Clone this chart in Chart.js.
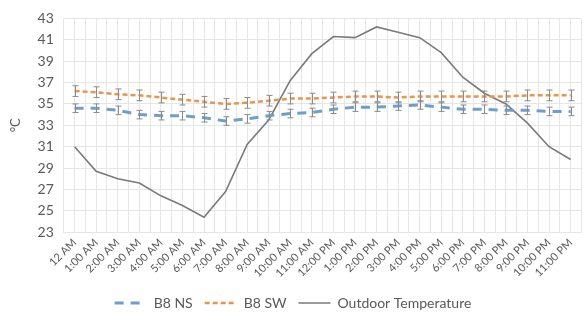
<!DOCTYPE html>
<html>
<head>
<meta charset="utf-8">
<script src="https://cdn.jsdelivr.net/npm/chart.js@4.4.1/dist/chart.umd.min.js"></script>
<style>
  html, body { margin: 0; padding: 0; background: #fff; }
  #wrap { width: 584px; height: 322px; position: relative; }
</style>
</head>
<body>
<div id="wrap"><canvas id="chart"></canvas></div>
<script>
const hours = ['12 AM', '1:00 AM', '2:00 AM', '3:00 AM', '4:00 AM', '5:00 AM', '6:00 AM', '7:00 AM',
    '8:00 AM', '9:00 AM', '10:00 AM', '11:00 AM', '12:00 PM', '1:00 PM', '2:00 PM', '3:00 PM',
    '4:00 PM', '5:00 PM', '6:00 PM', '7:00 PM', '8:00 PM', '9:00 PM', '10:00 PM', '11:00 PM'];

const b8NS = [34.6, 34.6, 34.4, 34.0, 33.9, 33.9, 33.7, 33.4, 33.6, 33.9, 34.1, 34.2,
    34.5, 34.7, 34.7, 34.8, 34.9, 34.7, 34.5, 34.5, 34.4, 34.4, 34.3, 34.3];
const b8NSErr = [0.4, 0.4, 0.4, 0.4, 0.4, 0.4, 0.4, 0.4, 0.4, 0.4, 0.4, 0.4,
    0.4, 0.4, 0.4, 0.4, 0.4, 0.4, 0.4, 0.4, 0.4, 0.4, 0.4, 0.4];

const b8SW = [36.2, 36.1, 35.9, 35.8, 35.6, 35.4, 35.2, 35.0, 35.1, 35.3, 35.5, 35.5,
    35.6, 35.7, 35.7, 35.6, 35.7, 35.7, 35.7, 35.7, 35.7, 35.8, 35.8, 35.8];
const b8SWErr = [0.5, 0.5, 0.5, 0.5, 0.5, 0.5, 0.5, 0.5, 0.5, 0.5, 0.5, 0.5,
    0.5, 0.5, 0.5, 0.5, 0.5, 0.5, 0.5, 0.5, 0.5, 0.5, 0.5, 0.5];

const outdoor = [31.0, 28.7, 28.0, 27.6, 26.4, 25.5, 24.4, 26.8, 31.2, 33.5, 37.2, 39.7,
    41.3, 41.2, 42.2, 41.7, 41.2, 39.8, 37.5, 36.0, 35.0, 33.2, 31.0, 29.8];

const textColor = '#595959';
const gridColor = '#e6e6e6';

// error bars drawn from the dataset values through the y scale
const errorBars = {
    id: 'errorBars',
    afterDatasetsDraw(chart) {
        const ctx = chart.ctx;
        const y = chart.scales.y;
        chart.data.datasets.forEach((ds, i) => {
            if (!ds.errors) return;
            const meta = chart.getDatasetMeta(i);
            ctx.save();
            ctx.strokeStyle = ds.errorColor;
            ctx.lineWidth = 1;
            meta.data.forEach((pt, j) => {
                const v = ds.data[j];
                const e = ds.errors[j];
                const top = y.getPixelForValue(v + e);
                const bot = y.getPixelForValue(v - e);
                const x = Math.round(pt.x) + 0.5;
                ctx.beginPath();
                ctx.moveTo(x, top);
                ctx.lineTo(x, bot);
                ctx.moveTo(x - 3, top);
                ctx.lineTo(x + 3, top);
                ctx.moveTo(x - 3, bot);
                ctx.lineTo(x + 3, bot);
                ctx.stroke();
            });
            ctx.restore();
        });
    }
};

new Chart(document.getElementById('chart'), {
    type: 'line',
    data: {
        labels: hours,
        datasets: [
            {
                label: 'B8 NS',
                data: b8NS,
                errors: b8NSErr,
                errorColor: '#8a8a8a',
                borderColor: '#6d9fcb',
                borderWidth: 3,
                borderDash: [9, 7],
                pointRadius: 0,
                tension: 0
            },
            {
                label: 'B8 SW',
                data: b8SW,
                errors: b8SWErr,
                errorColor: '#8a8a8a',
                borderColor: '#e8954f',
                borderWidth: 2.5,
                borderDash: [5, 3],
                pointRadius: 0,
                tension: 0
            },
            {
                label: 'Outdoor Temperature',
                data: outdoor,
                borderColor: '#7a7a7a',
                borderWidth: 1.6,
                pointRadius: 0,
                tension: 0
            }
        ]
    },
    options: {
        responsive: true,
        maintainAspectRatio: false,
        animation: false,
        layout: { padding: { left: 4, right: 2, top: -4, bottom: 2 } },
        plugins: {
            tooltip: { enabled: false },
            legend: {
                position: 'bottom',
                labels: {
                    color: textColor,
                    font: { family: 'Lato', size: 14 },
                    usePointStyle: true,
                    pointStyle: 'line',
                    pointStyleWidth: 32,
                    boxHeight: 3,
                    padding: 12,
                    generateLabels(chart) {
                        return chart.data.datasets.map((ds, i) => ({
                            text: ds.label,
                            strokeStyle: ds.borderColor,
                            fillStyle: ds.borderColor,
                            lineWidth: ds.borderWidth,
                            lineDash: ds.borderDash || [],
                            pointStyle: 'line',
                            hidden: false,
                            datasetIndex: i,
                            fontColor: textColor
                        }));
                    }
                }
            }
        },
        scales: {
            x: {
                offset: true,
                grid: { color: gridColor, offset: true, drawTicks: false },
                border: { color: gridColor },
                ticks: {
                    color: textColor,
                    font: { family: 'Lato', size: 11 },
                    maxRotation: 45,
                    minRotation: 45,
                    autoSkip: false,
                    padding: 4
                }
            },
            x2: {
                type: 'category',
                labels: hours,
                offset: true,
                position: 'bottom',
                grid: { color: gridColor, offset: false, drawTicks: false },
                border: { display: false },
                ticks: { display: false }
            },
            y: {
                min: 23,
                max: 43,
                grid: { color: gridColor, drawTicks: false },
                border: { display: false },
                ticks: {
                    stepSize: 2,
                    autoSkip: false,
                    color: textColor,
                    font: { family: 'Lato', size: 14 },
                    padding: 10
                },
                title: {
                    display: true,
                    text: '°C',
                    color: textColor,
                    font: { family: 'Lato', size: 13 },
                    padding: 4
                }
            }
        }
    },
    plugins: [errorBars]
});
</script>
</body>
</html>
